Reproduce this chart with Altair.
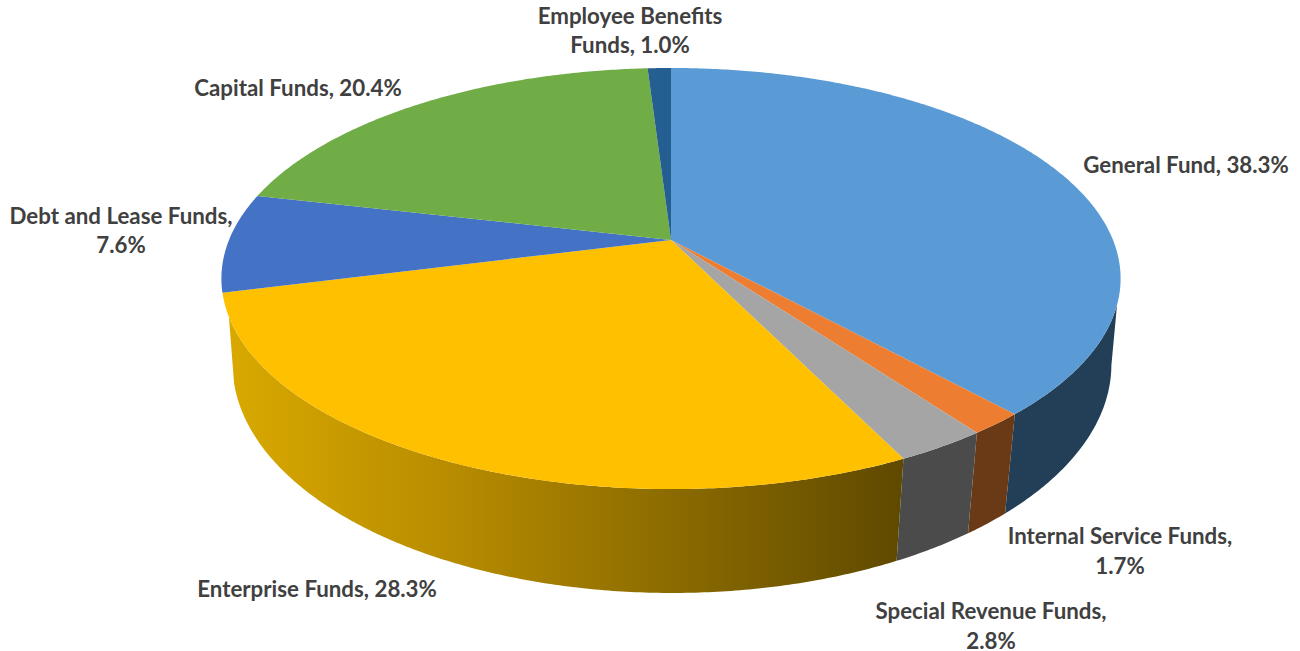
import math
import altair as alt
import pandas as pd

# Fund shares, clockwise from twelve o'clock
funds = ["General Fund", "Internal Service Funds", "Special Revenue Funds", "Enterprise Funds",
         "Debt and Lease Funds", "Capital Funds", "Employee Benefits Funds"]
shares = [38.3, 1.7, 2.8, 28.3, 7.6, 20.4, 1.0]
top_colors = ["#5B9BD5", "#ED7D31", "#A5A5A5", "#FFC000", "#4472C4", "#70AD47", "#255E91"]
side_colors = ["#233F58", "#6A3A17", "#4B4B4B", None, None, None, None]

# Perspective parameters of the upper and lower rim of the disc
TOP = dict(cx=671.0, cy=240.0, rx=442.0, ry=203.5, k=0.183)
BOTTOM = dict(cx=672.0, cy=325.5, rx=433.0, ry=222.0, k=0.17)

W, H = 1300, 651
x_scale = alt.Scale(domain=[0, W], range=[0, W], nice=False, zero=False)
y_scale = alt.Scale(domain=[0, H], range=[0, H], nice=False, zero=False)


def rim(deg, p):
    t = math.radians(deg)
    c, s = math.sin(t), -math.cos(t)
    w = 1 - p["k"] * s
    return p["cx"] + p["rx"] * c / w, p["cy"] + p["ry"] * s / w


def sweep(a, b, p):
    n = max(2, int(abs(b - a) * 2) + 1)
    return [rim(a + (b - a) * i / (n - 1), p) for i in range(n)]


def polygon(points, fill):
    df = pd.DataFrame(points, columns=["x", "y"])
    df["i"] = range(len(df))
    return (
        alt.Chart(df)
        .mark_line(fill=fill, strokeWidth=0, interpolate="linear", clip=False)
        .encode(
            x=alt.X("x:Q", scale=x_scale, axis=None),
            y=alt.Y("y:Q", scale=y_scale, axis=None),
            order=alt.Order("i:Q"),
        )
    )


total = sum(shares)
edges = [0.0]
for v in shares:
    edges.append(edges[-1] + v / total * 360)

enterprise_side = alt.LinearGradient(
    gradient="linear", x1=0, x2=1, y1=0, y2=0,
    stops=[
        alt.GradientStop(color="#D9A900", offset=0),
        alt.GradientStop(color="#B58A00", offset=0.35),
        alt.GradientStop(color="#8C6C00", offset=0.65),
        alt.GradientStop(color="#5F4900", offset=1),
    ],
)

layers = []

# Outer wall: only the part of the rim that faces the viewer
SIDE_START_TOP, SIDE_START_BOTTOM = 107.6, 100.0
SIDE_END_TOP, SIDE_END_BOTTOM = 249.3, 260.0
for idx in range(4):
    a, b = edges[idx], edges[idx + 1]
    a_top = max(a, SIDE_START_TOP)
    a_bot = max(a, SIDE_START_BOTTOM)
    b_top = min(b, SIDE_END_TOP)
    b_bot = min(b, SIDE_END_BOTTOM)
    fill = side_colors[idx] or enterprise_side
    pts = sweep(a_top, b_top, TOP) + sweep(b_bot, a_bot, BOTTOM)
    layers.append(polygon(pts, fill))

# Upper face wedges
for idx, color in enumerate(top_colors):
    pts = [(TOP["cx"], TOP["cy"])] + sweep(edges[idx], edges[idx + 1], TOP)
    layers.append(polygon(pts, color))


def label(name, value):
    return f"{name}, {value:.1f}%"


# Data labels, wrapped the way they are laid out around the disc; y is the text baseline
text_rows = [
    ("Employee Benefits", 630, 24),
    (f"Funds, {shares[6]:.1f}%", 630, 53),
    (label(funds[0], shares[0]), 1186, 173),
    (label(funds[5], shares[5]), 298, 96),
    (f"{funds[4]},", 121, 224),
    (f"{shares[4]:.1f}%", 121, 253),
    (label(funds[3], shares[3]), 317, 597),
    (f"{funds[1]},", 1120, 544),
    (f"{shares[1]:.1f}%", 1120, 574),
    (f"{funds[2]},", 991, 619),
    (f"{shares[2]:.1f}%", 991, 649),
]
labels = (
    alt.Chart(pd.DataFrame(text_rows, columns=["text", "x", "y"]))
    .mark_text(font="Lato", fontWeight="bold", fontSize=22.3, color="#404040", align="center", baseline="alphabetic")
    .encode(
        x=alt.X("x:Q", scale=x_scale, axis=None),
        y=alt.Y("y:Q", scale=y_scale, axis=None),
        text="text:N",
    )
)
layers.append(labels)

chart = (
    alt.layer(*layers)
    .properties(width=W, height=H, padding=0, autosize=alt.AutoSizeParams(type="none"), background="white")
    .configure_view(stroke=None)
)

chart.save("out.html", embed_options={"renderer": "svg", "actions": False})
